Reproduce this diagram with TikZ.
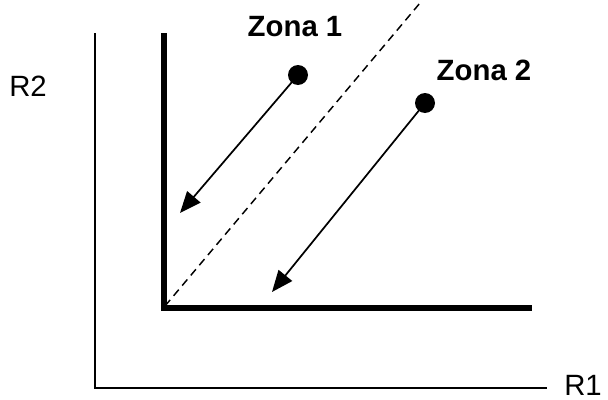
\documentclass[tikz,border=0pt]{standalone}
\usepackage{fontspec}
\setmainfont{Liberation Sans}
\usetikzlibrary{arrows.meta,positioning}
\tikzset{
  axisline/.style ={line width=1.6pt},
  wall/.style     ={line width=5pt},
  border/.style   ={dashed,line width=1.1pt,dash pattern=on 6pt off 4pt},
  dot/.style      ={circle,fill=black,inner sep=0pt,minimum size=15pt},
  zonelabel/.style={font=\fontsize{22}{26}\selectfont\bfseries},
  axislabel/.style={font=\fontsize{22}{26}\selectfont,inner sep=0pt},
  arr/.style      ={-{Triangle[length=16pt,width=13pt]},line width=1.3pt,shorten <=-2pt}
}
\begin{document}
\begin{tikzpicture}[x=0.75pt,y=-0.75pt]
  \useasboundingbox (0,0) rectangle (608,400);

  % axes
  \coordinate (origin) at (95,388);
  \coordinate (ytop)   at (95,33);
  \coordinate (xend)   at (547,388);
  \draw [axisline] (ytop) -- (origin) -- (xend);
  \node (r1) [axislabel, anchor=west] at (564,385) {R1};
  \node (r2) [axislabel] at (28,86) {R2};

  % thick walls
  \coordinate (corner) at (164,308);
  \coordinate (wtop)   at (164,33);
  \coordinate (wend)   at (532,308);
  \draw [wall] (wtop) -- (corner) -- (wend);

  % dashed divider
  \coordinate (dtop) at (420,3);
  \draw [border] (165,306) -- (dtop);

  % zones
  \node (z1)    [zonelabel] at (295,27)  {Zona 1};
  \node (z2)    [zonelabel] at (484,70)  {Zona 2};
  \node (dot1)  [dot]       at (298,75)  {};
  \node (dot2)  [dot]       at (425,103) {};
  \coordinate (end1) at (180,213);
  \coordinate (end2) at (272,292);

  \draw [arr] (dot1.center) -- (end1);
  \draw [arr] (dot2.center) -- (end2);
\end{tikzpicture}
\end{document}
